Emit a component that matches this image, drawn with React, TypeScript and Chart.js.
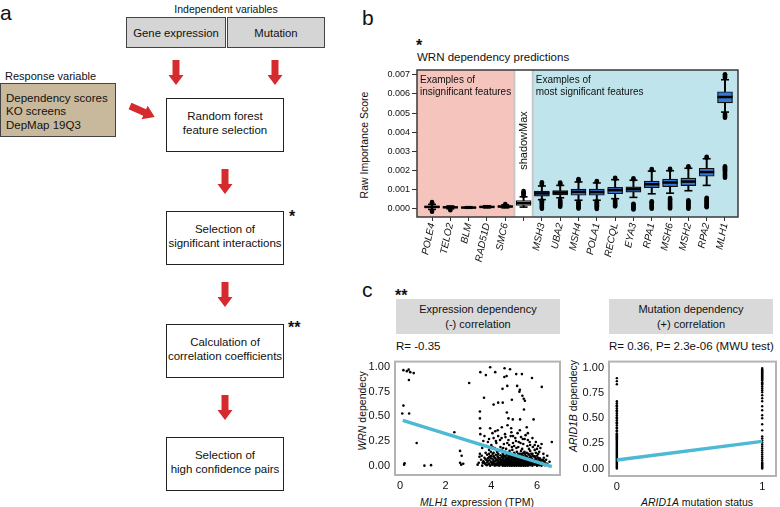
import React, { useEffect, useRef } from "react";
import { Chart, registerables } from "chart.js";

Chart.register(...registerables);

const FONT = '"Liberation Sans", Arial, Helvetica, sans-serif';
const INK = "#111111";
const RED = "#d52a2e";
const PINK = "#f5c4bd";
const CYAN_BG = "#bfe4ec";
const BOX_BLUE = "#3479d3";
const TREND = "#4db9d4";

// ---------------- Panel b data (importance values in units of 0.001) ----------------
const features = ["POLE4", "TELO2", "BLM", "RAD51D", "SMC6", "shadowMax", "MSH3", "UBA2", "MSH4", "POLA1", "RECQL", "EYA3", "RPA1", "MSH6", "MSH2", "RPA2", "MLH1"];
const featureTickLabels = ["POLE4", "TELO2", "BLM", "RAD51D", "SMC6", "", "MSH3", "UBA2", "MSH4", "POLA1", "RECQL", "EYA3", "RPA1", "MSH6", "MSH2", "RPA2", "MLH1"];
const featureGroup = ["insig", "insig", "insig", "insig", "insig", "shadow", "sig", "sig", "sig", "sig", "sig", "sig", "sig", "sig", "sig", "sig", "sig"];
const boxQ1 = [0.03, 0.02, 0.015, 0.045, 0.055, 0.15, 0.64, 0.7, 0.68, 0.68, 0.76, 0.85, 1.08, 1.13, 1.19, 1.68, 5.53];
const boxMedian = [0.07, 0.05, 0.035, 0.07, 0.09, 0.27, 0.78, 0.82, 0.86, 0.85, 0.95, 1.0, 1.26, 1.35, 1.4, 1.9, 5.84];
const boxQ3 = [0.12, 0.08, 0.055, 0.1, 0.13, 0.4, 0.9, 0.93, 1.0, 1.0, 1.1, 1.12, 1.42, 1.53, 1.58, 2.1, 6.12];
const whiskerLow = [-0.06, -0.03, 0.0, 0.02, 0.02, 0.06, 0.45, 0.55, 0.42, 0.42, 0.5, 0.57, 0.76, 0.79, 0.92, 1.2, 5.05];
const whiskerHigh = [0.2, 0.12, 0.08, 0.13, 0.18, 0.6, 1.17, 1.2, 1.38, 1.33, 1.5, 1.47, 1.95, 1.97, 2.1, 2.6, 6.75];
const outliersLow = [
  [-0.18, -0.12],
  [-0.1],
  [],
  [],
  [],
  [],
  [-0.03, 0.02, 0.07, 0.12, 0.17, 0.22, 0.27, 0.32, 0.37, 0.4],
  [0.08, 0.13, 0.18, 0.23, 0.28, 0.33, 0.38, 0.43],
  [-0.02, 0.03, 0.08, 0.13, 0.18, 0.23, 0.28, 0.33],
  [-0.04, 0.01, 0.06, 0.11, 0.16, 0.21, 0.26, 0.31, 0.36],
  [0.1, 0.15, 0.2, 0.25, 0.3, 0.35, 0.4],
  [-0.06, -0.01, 0.04, 0.09, 0.14, 0.19, 0.23],
  [-0.03, 0.02, 0.07, 0.12, 0.17, 0.22, 0.27, 0.32, 0.37],
  [-0.01, 0.04, 0.09, 0.14, 0.19, 0.24, 0.29, 0.34, 0.39, 0.44, 0.49, 0.54],
  [-0.03, 0.02, 0.07, 0.12, 0.17, 0.22, 0.27, 0.32, 0.37, 0.42],
  [0.05, 0.1, 0.15, 0.2, 0.25, 0.3, 0.35, 0.4, 0.45, 0.5, 0.55],
  [1.6, 1.65, 1.7, 1.75, 1.8, 1.85, 1.9, 1.95, 2.0, 2.05, 2.1, 2.15, 2.2, 4.75, 4.8, 4.85, 4.9, 4.95],
];
const outliersHigh = [
  [0.26, 0.32],
  [],
  [],
  [],
  [0.22],
  [0.66, 0.72, 0.78, 0.84, 0.9],
  [1.22, 1.27, 1.32, 1.36],
  [1.26, 1.31, 1.35],
  [1.44, 1.49, 1.53],
  [1.39, 1.43],
  [1.55, 1.6],
  [1.52, 1.57],
  [2.0, 2.06],
  [2.02, 2.07],
  [2.15, 2.2],
  [2.65, 2.7],
  [6.85, 6.9, 6.95, 7.0, 7.04],
];
const importanceTicks = [0, 0.001, 0.002, 0.003, 0.004, 0.005, 0.006, 0.007];

// ---------------- Panel c data ----------------
const mlh1Points: [number, number][] = [
  [0.15, 0.97], [0.3, 0.96], [0.38, 0.975], [0.45, 0.95], [0.6, 0.94], [0.39, 0.87], [0.15, 0.61], [0.1, 0.53], [0.4, 0.53],
  [0.73, 0.23], [0.18, 0.01], [0.2, 0.025], [1.07, 0.0], [1.36, 0.005], [2.38, 0.34], [3.03, 0.84], [2.63, 0.15], [2.7, 0.1],
  [2.63, 0.03], [2.77, 0.02], [2.68, 0.01], [3.4, 0.01], [3.48, 0.09], [3.52, 0.95], [3.5, 0.55], [3.5, 0.48], [3.52, 0.32],
  [3.5, 0.12], [3.76, 0.92], [3.95, 1.0], [4.17, 0.95], [4.58, 0.99], [4.82, 0.98], [4.57, 0.9], [4.67, 0.91], [5.09, 0.93],
  [5.34, 0.93], [5.78, 0.89], [4.49, 0.78], [4.7, 0.81], [5.13, 0.81], [5.25, 0.77], [5.23, 0.75], [6.21, 0.8], [3.68, 0.69],
  [5.36, 0.71], [5.42, 0.68], [5.47, 0.66], [4.1, 0.62], [4.3, 0.64], [4.5, 0.64], [4.9, 0.67], [5.43, 0.57], [4.68, 0.54],
  [4.75, 0.48], [4.94, 0.47], [5.26, 0.47], [5.85, 0.47], [4.46, 0.39], [4.71, 0.41], [4.87, 0.38], [5.55, 0.39], [3.51, 0.38],
  [3.95, 0.38], [4.17, 0.35], [6.65, 0.24],
  [3.7, 0.3], [3.9, 0.27], [4.05, 0.33], [4.2, 0.25], [4.3, 0.3], [4.45, 0.28], [4.55, 0.22], [4.6, 0.32], [4.75, 0.26],
  [4.85, 0.3], [4.95, 0.23], [5.05, 0.28], [5.15, 0.33], [5.2, 0.24], [5.3, 0.29], [5.4, 0.22], [5.5, 0.31], [5.6, 0.26],
  [5.7, 0.21], [5.8, 0.28], [5.95, 0.24], [6.05, 0.2], [6.2, 0.22], [3.8, 0.2], [3.6, 0.18], [4.0, 0.21], [4.15, 0.18],
  [4.4, 0.19], [4.65, 0.17], [4.9, 0.19], [5.1, 0.18], [5.35, 0.17], [5.65, 0.17], [5.9, 0.16], [6.1, 0.14], [3.75, 0.13],
  [3.85, 0.24], [4.25, 0.14], [4.5, 0.12], [4.8, 0.15], [5.0, 0.13], [5.25, 0.12], [5.45, 0.14], [5.75, 0.12], [6.0, 0.1],
  [6.3, 0.08], [6.4, 0.06],
  [4.1, 0.13], [4.35, 0.15], [4.6, 0.14], [4.75, 0.13], [4.92, 0.16], [5.12, 0.14], [5.3, 0.15], [5.55, 0.13], [5.7, 0.15],
  [5.95, 0.13], [4.45, 0.16], [5.4, 0.125],
  [3.55, 0.06], [3.62, 0.03], [3.7, 0.08], [3.58, 0.1], [3.82, 0.11], [3.45, 0.03],
  [3.9, 0.16], [4.05, 0.19], [4.22, 0.23], [4.38, 0.26], [4.52, 0.18], [4.62, 0.29], [4.78, 0.21], [4.88, 0.34], [5.0, 0.2],
  [5.08, 0.25], [5.18, 0.19], [5.28, 0.23], [5.46, 0.27], [5.58, 0.2], [5.68, 0.24], [5.82, 0.19], [6.0, 0.17], [6.15, 0.18],
  [4.28, 0.36], [4.95, 0.3], [5.6, 0.33], [5.25, 0.36], [4.1, 0.28], [3.65, 0.25], [3.98, 0.14], [4.7, 0.23], [5.38, 0.27],
  [5.9, 0.21], [6.28, 0.12], [6.45, 0.1], [6.55, 0.04],
  [3.6, 0.0], [3.8, 0.005], [3.95, 0.0], [4.05, 0.01], [4.15, 0.0], [4.25, 0.005], [4.35, 0.0], [4.45, 0.01], [4.5, 0.0],
  [4.55, 0.005], [4.6, 0.0], [4.7, 0.0], [4.75, 0.01], [4.8, 0.0], [4.85, 0.005], [4.9, 0.0], [4.95, 0.01], [5.0, 0.0],
  [5.05, 0.005], [5.1, 0.0], [5.15, 0.01], [5.2, 0.0], [5.25, 0.005], [5.3, 0.0], [5.35, 0.01], [5.4, 0.0], [5.45, 0.005],
  [5.5, 0.0], [5.55, 0.01], [5.6, 0.0], [5.7, 0.005], [5.8, 0.0], [5.9, 0.01], [6.0, 0.0], [6.1, 0.005], [6.2, 0.0], [6.35, 0.005],
  [3.75, 0.015], [3.88, 0.015], [4.02, 0.015], [4.12, 0.015], [4.22, 0.015], [4.33, 0.015], [4.43, 0.015], [4.53, 0.015],
  [4.63, 0.015], [4.73, 0.015], [4.83, 0.015], [4.93, 0.015], [5.03, 0.015], [5.13, 0.015], [5.23, 0.015], [5.33, 0.015],
  [5.43, 0.015], [5.53, 0.015], [5.63, 0.015], [5.73, 0.015], [5.83, 0.015], [5.93, 0.015], [6.03, 0.015], [6.13, 0.015],
  [6.28, 0.015], [6.4, 0.015],
  [3.7, 0.025], [3.9, 0.02], [4.1, 0.03], [4.2, 0.02], [4.3, 0.025], [4.4, 0.03], [4.48, 0.02], [4.58, 0.025], [4.65, 0.03],
  [4.72, 0.02], [4.78, 0.03], [4.88, 0.025], [4.93, 0.02], [5.02, 0.03], [5.08, 0.02], [5.12, 0.025], [5.18, 0.03], [5.28, 0.02],
  [5.33, 0.03], [5.42, 0.025], [5.48, 0.02], [5.52, 0.03], [5.62, 0.025], [5.68, 0.02], [5.75, 0.03], [5.85, 0.025], [5.95, 0.02],
  [6.05, 0.025], [6.15, 0.02], [6.25, 0.03], [6.45, 0.02],
  [3.68, 0.035], [3.82, 0.035], [3.98, 0.035], [4.08, 0.035], [4.28, 0.035], [4.38, 0.035], [4.46, 0.035], [4.56, 0.035],
  [4.7, 0.035], [4.8, 0.035], [4.86, 0.035], [4.96, 0.035], [5.04, 0.035], [5.16, 0.035], [5.26, 0.035], [5.36, 0.035],
  [5.44, 0.035], [5.58, 0.035], [5.66, 0.035], [5.78, 0.035], [5.88, 0.035], [5.98, 0.035], [6.08, 0.035], [6.18, 0.035], [6.35, 0.035],
  [3.65, 0.045], [3.85, 0.05], [4.0, 0.04], [4.18, 0.045], [4.32, 0.05], [4.42, 0.04], [4.52, 0.05], [4.62, 0.045], [4.68, 0.04],
  [4.76, 0.05], [4.83, 0.045], [4.9, 0.04], [4.98, 0.05], [5.06, 0.045], [5.14, 0.04], [5.22, 0.05], [5.3, 0.045], [5.38, 0.04],
  [5.46, 0.05], [5.56, 0.045], [5.64, 0.04], [5.72, 0.05], [5.82, 0.045], [5.92, 0.04], [6.02, 0.05], [6.12, 0.04], [6.3, 0.045],
  [3.8, 0.055], [3.92, 0.055], [4.1, 0.055], [4.28, 0.055], [4.44, 0.055], [4.55, 0.055], [4.66, 0.055], [4.76, 0.055],
  [4.86, 0.055], [4.96, 0.055], [5.05, 0.055], [5.15, 0.055], [5.26, 0.055], [5.38, 0.055], [5.5, 0.055], [5.6, 0.055],
  [5.72, 0.055], [5.84, 0.055], [5.96, 0.055], [6.14, 0.055], [6.28, 0.055],
  [3.75, 0.065], [4.05, 0.07], [4.22, 0.06], [4.38, 0.065], [4.5, 0.07], [4.6, 0.06], [4.7, 0.065], [4.8, 0.07], [4.9, 0.06],
  [5.0, 0.065], [5.1, 0.07], [5.2, 0.06], [5.32, 0.065], [5.44, 0.07], [5.54, 0.06], [5.66, 0.065], [5.78, 0.07], [5.9, 0.06],
  [6.08, 0.065], [6.22, 0.06],
  [3.85, 0.075], [3.98, 0.075], [4.18, 0.075], [4.35, 0.075], [4.52, 0.075], [4.65, 0.075], [4.78, 0.075], [4.92, 0.075],
  [5.03, 0.075], [5.14, 0.075], [5.24, 0.075], [5.36, 0.075], [5.48, 0.075], [5.62, 0.075], [5.75, 0.075], [5.95, 0.075], [6.12, 0.075],
  [3.9, 0.085], [4.12, 0.09], [4.3, 0.08], [4.45, 0.085], [4.58, 0.09], [4.72, 0.08], [4.86, 0.085], [4.97, 0.09], [5.08, 0.08],
  [5.18, 0.085], [5.3, 0.09], [5.42, 0.08], [5.58, 0.085], [5.7, 0.08], [5.88, 0.09], [6.05, 0.08],
  [3.95, 0.095], [4.1, 0.095], [4.28, 0.095], [4.5, 0.095], [4.62, 0.095], [4.76, 0.095], [4.9, 0.095], [5.0, 0.095],
  [5.12, 0.095], [5.26, 0.095], [5.4, 0.095], [5.55, 0.095], [5.72, 0.095], [5.9, 0.095],
  [4.0, 0.1], [4.2, 0.11], [4.4, 0.105], [4.55, 0.1], [4.68, 0.11], [4.82, 0.1], [4.95, 0.105], [5.05, 0.11], [5.2, 0.1],
  [5.35, 0.105], [5.5, 0.1], [5.65, 0.11], [5.82, 0.1],
  [3.9, 0.12], [4.06, 0.12], [4.3, 0.12], [4.52, 0.12], [4.68, 0.12], [4.85, 0.12], [5.02, 0.12], [5.18, 0.12], [5.32, 0.12],
  [5.48, 0.12], [5.62, 0.12], [5.8, 0.12], [6.05, 0.12],
];
const mlh1TrendX = [0.12, 6.65];
const mlh1TrendY = [0.46, -0.01];
const expressionTicks = [0, 2, 4, 6];
const dependencyTicks = [0, 0.25, 0.5, 0.75, 1];

const arid1bWildtype = [
  0, 0.01, 0.02, 0.03, 0.04, 0.05, 0.06, 0.07, 0.08, 0.09, 0.1, 0.11, 0.12, 0.13, 0.14, 0.15, 0.16, 0.17, 0.18, 0.19, 0.2,
  0.21, 0.22, 0.23, 0.24, 0.25, 0.26, 0.27, 0.28, 0.29, 0.3, 0.31, 0.32, 0.33, 0.34, 0.35, 0.37, 0.38, 0.4, 0.41, 0.43, 0.45,
  0.46, 0.48, 0.5, 0.51, 0.53, 0.55, 0.57, 0.58, 0.6, 0.62, 0.63, 0.65, 0.67, 0.84, 0.87, 0.9,
];
const arid1bMutant = [
  1.0, 0.99, 0.98, 0.97, 0.96, 0.95, 0.94, 0.93, 0.92, 0.91, 0.9, 0.89, 0.88, 0.86, 0.85, 0.84, 0.82, 0.8, 0.78, 0.76, 0.73,
  0.7, 0.67, 0.62, 0.58, 0.53, 0.5, 0.44, 0.38, 0.32, 0.3, 0.28, 0.26, 0.24, 0.22, 0.2, 0.18, 0.16, 0.14, 0.12, 0.1, 0.08,
  0.06, 0.05, 0.04, 0.03, 0.02, 0.01, 0.0,
];
const arid1bTrendX = [0, 1];
const arid1bTrendY = [0.085, 0.27];
const mutationTicks = [0, 1];

// ---------------- helpers ----------------
const framePlugin = (color: string, width: number) => ({
  id: "frame",
  afterDatasetsDraw(chart: any) {
    const { ctx, chartArea: a } = chart;
    ctx.save();
    ctx.strokeStyle = color;
    ctx.lineWidth = width;
    ctx.strokeRect(a.left, a.top, a.right - a.left, a.bottom - a.top);
    ctx.restore();
  },
});

const groupPlugin = {
  id: "groups",
  beforeDatasetsDraw(chart: any) {
    const { ctx, chartArea: a, scales } = chart;
    const x = scales.x;
    const firstShadow = featureGroup.indexOf("shadow");
    const b1 = x.getPixelForValue(firstShadow - 0.5);
    const b2 = x.getPixelForValue(firstShadow + 0.5);
    const h = a.bottom - a.top;
    ctx.save();
    ctx.fillStyle = PINK;
    ctx.fillRect(a.left, a.top, b1 - a.left, h);
    ctx.fillStyle = "#ffffff";
    ctx.fillRect(b1, a.top, b2 - b1, h);
    ctx.fillStyle = CYAN_BG;
    ctx.fillRect(b2, a.top, a.right - b2, h);
    ctx.strokeStyle = "#c6c6c6";
    ctx.lineWidth = 2;
    ctx.beginPath();
    ctx.moveTo(b1, a.top);
    ctx.lineTo(b1, a.bottom);
    ctx.moveTo(b2, a.top);
    ctx.lineTo(b2, a.bottom);
    ctx.stroke();
    ctx.fillStyle = INK;
    ctx.font = `10px ${FONT}`;
    ctx.textAlign = "left";
    ctx.textBaseline = "alphabetic";
    ctx.fillText("Examples of", a.left + 3, a.top + 12.5);
    ctx.fillText("insignificant features", a.left + 3, a.top + 24.5);
    ctx.fillText("Examples of", b2 + 3, a.top + 12.5);
    ctx.fillText("most significant features", b2 + 3, a.top + 24.5);
    ctx.translate(x.getPixelForValue(firstShadow), a.top + 70.5);
    ctx.rotate(-Math.PI / 2);
    ctx.textAlign = "center";
    ctx.textBaseline = "middle";
    ctx.font = `11px ${FONT}`;
    ctx.fillText(features[firstShadow], 0, 0);
    ctx.restore();
  },
};

function ImportanceChart() {
  const ref = useRef<HTMLCanvasElement>(null);
  useEffect(() => {
    const U = 0.001;
    const idx = features.map((_, i) => i);
    const boxFill = featureGroup.map((g) => (g === "sig" ? BOX_BLUE : "#ffffff"));
    const outlierPts: { x: number; y: number }[] = [];
    idx.forEach((i) => {
      [...outliersLow[i], ...outliersHigh[i]].forEach((v) => outlierPts.push({ x: i, y: v * U }));
    });
    const chart = new Chart(ref.current as HTMLCanvasElement, {
      type: "bar",
      data: {
        datasets: [
          {
            type: "bar",
            data: idx.map((i) => ({ x: i, y: [whiskerLow[i] * U, whiskerHigh[i] * U] })),
            backgroundColor: "#000",
            borderWidth: 0,
            grouped: false,
            barThickness: 1.3,
            maxBarThickness: 1.3,
            order: 5,
          } as any,
          {
            type: "bar",
            data: idx.map((i) => ({ x: i, y: [boxQ1[i] * U, boxQ3[i] * U] })),
            backgroundColor: boxFill,
            borderColor: "#111",
            borderWidth: 1.2,
            borderSkipped: false,
            grouped: false,
            barThickness: 15,
            maxBarThickness: 15,
            order: 4,
          } as any,
          {
            type: "scatter",
            data: idx.map((i) => ({ x: i, y: boxMedian[i] * U })),
            pointStyle: "line",
            pointRadius: 7.5,
            pointBorderColor: "#000",
            pointBorderWidth: 2.5,
            borderColor: "#000",
            order: 3,
          } as any,
          {
            type: "scatter",
            data: idx.flatMap((i) => [
              { x: i, y: whiskerLow[i] * U },
              { x: i, y: whiskerHigh[i] * U },
            ]),
            pointStyle: "line",
            pointRadius: 4,
            pointBorderColor: "#000",
            pointBorderWidth: 1.6,
            borderColor: "#000",
            order: 2,
          } as any,
          {
            type: "scatter",
            data: outlierPts,
            pointRadius: 2.3,
            pointBackgroundColor: "#000",
            pointBorderWidth: 0,
            order: 1,
          } as any,
        ],
      },
      options: {
        responsive: false,
        animation: false,
        events: [],
        layout: { padding: { top: 7, right: 42, left: 0, bottom: 0 } },
        plugins: { legend: { display: false }, tooltip: { enabled: false } },
        scales: {
          x: {
            type: "linear",
            min: -0.82,
            max: 16.71,
            offset: false,
            afterBuildTicks: (ax: any) => {
              ax.ticks = features.map((_, i) => ({ value: i }));
            },
            afterFit: (s: any) => {
              s.height = 48;
            },
            grid: { display: true, drawOnChartArea: false, drawTicks: true, tickLength: 4, color: "#333", offset: false },
            border: { display: false },
            ticks: {
              autoSkip: false,
              minRotation: 78,
              maxRotation: 78,
              padding: 1,
              color: INK,
              font: { family: FONT, size: 10, style: "italic" },
              callback: (v: any) => featureTickLabels[Math.round(Number(v))] ?? "",
            },
          },
          y: {
            type: "linear",
            min: -0.00046,
            max: 0.00726,
            afterBuildTicks: (ax: any) => {
              ax.ticks = importanceTicks.map((v) => ({ value: v }));
            },
            afterFit: (s: any) => {
              s.width = 62;
            },
            grid: { display: true, drawOnChartArea: false, drawTicks: true, tickLength: 5, color: "#333" },
            border: { display: false },
            ticks: {
              padding: 2,
              color: INK,
              font: { family: FONT, size: 9 },
              callback: (v: any) => Number(v).toFixed(3),
            },
          },
        },
      } as any,
      plugins: [groupPlugin, framePlugin("#3a3a3a", 1.5)],
    });
    return () => chart.destroy();
  }, []);
  return (
    <canvas
      ref={ref}
      width={425}
      height={205}
      style={{ position: "absolute", left: 355, top: 60, width: 425, height: 205 }}
    />
  );
}

function scatterOptions(xMin: number, xMax: number, yMin: number, yMax: number, xTicks: number[], yAxisWidth: number, xAxisHeight: number, padRight: number) {
  return {
    responsive: false,
    animation: false,
    events: [],
    layout: { padding: { top: 4, right: padRight, left: 0, bottom: 0 } },
    plugins: { legend: { display: false }, tooltip: { enabled: false } },
    scales: {
      x: {
        type: "linear",
        min: xMin,
        max: xMax,
        afterBuildTicks: (ax: any) => {
          ax.ticks = xTicks.map((v) => ({ value: v }));
        },
        afterFit: (s: any) => {
          s.height = xAxisHeight;
        },
        grid: { display: false, drawTicks: false },
        border: { display: false },
        ticks: { padding: 4, color: INK, font: { family: FONT, size: 11 }, callback: (v: any) => String(v) },
      },
      y: {
        type: "linear",
        min: yMin,
        max: yMax,
        afterBuildTicks: (ax: any) => {
          ax.ticks = dependencyTicks.map((v) => ({ value: v }));
        },
        afterFit: (s: any) => {
          s.width = yAxisWidth;
        },
        grid: { display: false, drawTicks: false },
        border: { display: false },
        ticks: { padding: 5, color: INK, font: { family: FONT, size: 11 }, callback: (v: any) => Number(v).toFixed(2) },
      },
    },
  } as any;
}

function ExpressionScatter() {
  const ref = useRef<HTMLCanvasElement>(null);
  useEffect(() => {
    const chart = new Chart(ref.current as HTMLCanvasElement, {
      type: "scatter",
      data: {
        datasets: [
          {
            type: "line",
            data: mlh1TrendX.map((x, i) => ({ x, y: mlh1TrendY[i] })),
            borderColor: TREND,
            borderWidth: 3.5,
            pointRadius: 0,
            order: 0,
          } as any,
          {
            type: "scatter",
            data: mlh1Points.map(([x, y]) => ({ x, y })),
            pointRadius: 1.3,
            pointBackgroundColor: "#000",
            pointBorderWidth: 0,
            order: 1,
          } as any,
        ],
      },
      options: scatterOptions(-0.219, 7.008, -0.095, 1.057, expressionTicks, 40, 32, 5),
      plugins: [framePlugin("#b3b3b3", 2)],
    });
    return () => chart.destroy();
  }, []);
  return (
    <canvas ref={ref} width={210} height={157} style={{ position: "absolute", left: 355, top: 350, width: 210, height: 157 }} />
  );
}

function MutationScatter() {
  const ref = useRef<HTMLCanvasElement>(null);
  useEffect(() => {
    const pts = [
      ...arid1bWildtype.map((y) => ({ x: 0, y })),
      ...arid1bMutant.map((y) => ({ x: 1, y })),
    ];
    const chart = new Chart(ref.current as HTMLCanvasElement, {
      type: "scatter",
      data: {
        datasets: [
          {
            type: "line",
            data: arid1bTrendX.map((x, i) => ({ x, y: arid1bTrendY[i] })),
            borderColor: TREND,
            borderWidth: 3.5,
            pointRadius: 0,
            order: 0,
          } as any,
          {
            type: "scatter",
            data: pts,
            pointRadius: 1.2,
            pointBackgroundColor: "#000",
            pointBorderWidth: 0,
            order: 1,
          } as any,
        ],
      },
      options: scatterOptions(-0.054, 1.095, -0.075, 1.065, mutationTicks, 39, 31, 2),
      plugins: [framePlugin("#b3b3b3", 2)],
    });
    return () => chart.destroy();
  }, []);
  return (
    <canvas ref={ref} width={210} height={157} style={{ position: "absolute", left: 570, top: 350, width: 210, height: 157 }} />
  );
}

// ---------------- text helpers ----------------
const Txt = ({ x, y, size = 11, align = "left", children, style }: any) => {
  const tx = align === "center" ? "-50%" : align === "right" ? "-100%" : "0";
  return (
    <div
      style={{
        position: "absolute",
        left: x,
        top: y - size / 2,
        fontSize: size,
        lineHeight: `${size}px`,
        whiteSpace: "nowrap",
        transform: `translateX(${tx})`,
        color: INK,
        ...style,
      }}
    >
      {children}
    </div>
  );
};

const VTxt = ({ x, y, size = 11, children }: any) => (
  <div
    style={{
      position: "absolute",
      left: x,
      top: y,
      fontSize: size,
      lineHeight: `${size}px`,
      whiteSpace: "nowrap",
      transform: "translate(-50%, -50%) rotate(-90deg)",
      color: INK,
    }}
  >
    {children}
  </div>
);

const DownArrow = ({ cx, y }: { cx: number; y: number }) => (
  <polygon
    points={`${cx - 3.5},${y} ${cx + 3.5},${y} ${cx + 3.5},${y + 15} ${cx + 7.5},${y + 15} ${cx},${y + 25} ${cx - 7.5},${y + 15} ${cx - 3.5},${y + 15}`}
    fill={RED}
  />
);

const FlowBox = ({ y, lines }: { y: number; lines: string[] }) => (
  <g>
    <rect x={166.5} y={y + 0.5} width={117} height={53} fill="#fff" stroke="#222" strokeWidth={1} />
    {lines.map((t, i) => (
      <text key={i} x={225} y={y + 25 - (lines.length - 1) * 7 + i * 14 + 4} fontSize={11.5} textAnchor="middle" fill="#111">
        {t}
      </text>
    ))}
  </g>
);

function FlowChart() {
  return (
    <svg width={360} height={507} style={{ position: "absolute", left: 0, top: 0 }} fontFamily={FONT}>
      <text x={0} y={20} fontSize={21} fill="#111">a</text>
      <text x={226} y={13} fontSize={10.5} textAnchor="middle" fill="#111">Independent variables</text>
      <rect x={126.5} y={17.5} width={99} height={30} fill="#d5d5d5" stroke="#444" strokeWidth={1} />
      <rect x={227.5} y={17.5} width={97} height={30} fill="#d5d5d5" stroke="#444" strokeWidth={1} />
      <text x={176} y={37} fontSize={11.3} textAnchor="middle" fill="#111">Gene expression</text>
      <text x={276} y={37} fontSize={11.3} textAnchor="middle" fill="#111">Mutation</text>
      <DownArrow cx={176} y={60} />
      <DownArrow cx={275} y={60} />
      <text x={5} y={80} fontSize={11} fill="#111">Response variable</text>
      <rect x={0.5} y={83.5} width={115} height={53} fill="#c9b99c" stroke="#444" strokeWidth={1} />
      <text x={6} y={102} fontSize={11.5} fill="#111">Dependency scores</text>
      <text x={6} y={115} fontSize={11.5} fill="#111">KO screens</text>
      <text x={6} y={129} fontSize={11.5} fill="#111">DepMap 19Q3</text>
      <g transform="translate(130,106) rotate(24)">
        <polygon points="0,-3.5 16,-3.5 16,-7.5 27,0 16,7.5 16,3.5 0,3.5" fill={RED} />
      </g>
      <FlowBox y={98} lines={["Random forest", "feature selection"]} />
      <DownArrow cx={225} y={169} />
      <FlowBox y={211} lines={["Selection of", "significant interactions"]} />
      <text x={289} y={222} fontSize={16} fontWeight="bold" fill="#111">*</text>
      <DownArrow cx={225} y={282} />
      <FlowBox y={324} lines={["Calculation of", "correlation coefficients"]} />
      <text x={288} y={333} fontSize={16} fontWeight="bold" fill="#111">**</text>
      <DownArrow cx={225} y={395} />
      <FlowBox y={437} lines={["Selection of", "high confidence pairs"]} />
    </svg>
  );
}

export default function App() {
  return (
    <div
      style={{
        position: "absolute",
        left: 0,
        top: 0,
        width: 780,
        height: 507,
        overflow: "hidden",
        background: "#fff",
        fontFamily: FONT,
      }}
    >
      <FlowChart />

      {/* Panel b */}
      <Txt x={362} y={17} size={21}>b</Txt>
      <Txt x={416} y={46} size={16} style={{ fontWeight: "bold" }}>*</Txt>
      <Txt x={417} y={58} size={11.5}>WRN dependency predictions</Txt>
      <VTxt x={364} y={145} size={10.5}>Raw Importance Score</VTxt>
      <ImportanceChart />

      {/* Panel c */}
      <Txt x={362} y={289} size={21}>c</Txt>
      <Txt x={395} y={296} size={16} style={{ fontWeight: "bold" }}>**</Txt>
      <div
        style={{
          position: "absolute",
          left: 396,
          top: 299,
          width: 164,
          height: 35,
          boxSizing: "border-box",
          paddingTop: 3,
          background: "#d9d9d9",
          textAlign: "center",
          fontSize: 11,
          lineHeight: "15px",
          color: INK,
        }}
      >
        Expression dependency
        <br />
        (-) correlation
      </div>
      <div
        style={{
          position: "absolute",
          left: 609,
          top: 299,
          width: 164,
          height: 35,
          boxSizing: "border-box",
          paddingTop: 3,
          background: "#d9d9d9",
          textAlign: "center",
          fontSize: 11,
          lineHeight: "15px",
          color: INK,
        }}
      >
        Mutation dependency
        <br />
        (+) correlation
      </div>
      <Txt x={396} y={347} size={11.5}>R= -0.35</Txt>
      <Txt x={609} y={347} size={11.5}>R= 0.36, P= 2.3e-06 (MWU test)</Txt>
      <VTxt x={362} y={411} size={10.5}>
        <i>WRN</i> dependecy
      </VTxt>
      <VTxt x={573} y={406} size={10.5}>
        <i>ARID1B</i> dependecy
      </VTxt>
      <Txt x={477} y={502} size={10.5} align="center">
        <i>MLH1</i> expression (TPM)
      </Txt>
      <Txt x={697} y={502} size={10.5} align="center">
        <i>ARID1A</i> mutation status
      </Txt>
      <ExpressionScatter />
      <MutationScatter />
    </div>
  );
}
